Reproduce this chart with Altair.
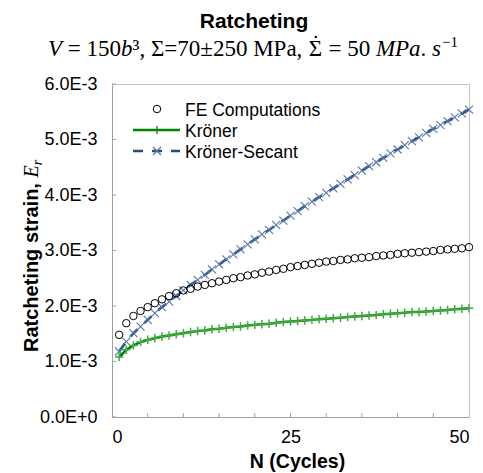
import altair as alt
import pandas as pd

SANS = "Liberation Sans"
SERIF = "Liberation Serif"

cycles = list(range(1, 51))

# Ratcheting strain values in units of 1E-3
fe = [1.48, 1.69, 1.82, 1.91, 1.98, 2.05, 2.12, 2.18, 2.23, 2.28,
      2.31, 2.35, 2.38, 2.41, 2.44, 2.47, 2.50, 2.52, 2.55, 2.57,
      2.60, 2.62, 2.65, 2.67, 2.70, 2.72, 2.74, 2.76, 2.78, 2.80,
      2.81, 2.83, 2.84, 2.86, 2.87, 2.88, 2.90, 2.91, 2.92, 2.94,
      2.95, 2.96, 2.97, 2.98, 2.99, 3.01, 3.02, 3.03, 3.04, 3.06]

kroner = [1.08, 1.21, 1.29, 1.35, 1.39, 1.42, 1.45, 1.47, 1.49, 1.51,
          1.53, 1.55, 1.56, 1.58, 1.59, 1.61, 1.62, 1.63, 1.65, 1.66,
          1.67, 1.68, 1.70, 1.71, 1.72, 1.73, 1.74, 1.75, 1.76, 1.77,
          1.78, 1.79, 1.80, 1.81, 1.82, 1.83, 1.84, 1.85, 1.86, 1.87,
          1.88, 1.89, 1.89, 1.90, 1.91, 1.92, 1.93, 1.94, 1.95, 1.96]

secant = [1.18, 1.36, 1.51, 1.63, 1.75, 1.87, 1.98, 2.08, 2.18, 2.28,
          2.38, 2.47, 2.56, 2.66, 2.75, 2.84, 2.93, 3.02, 3.11, 3.20,
          3.29, 3.37, 3.46, 3.54, 3.63, 3.71, 3.80, 3.88, 3.96, 4.04,
          4.12, 4.20, 4.28, 4.36, 4.44, 4.52, 4.59, 4.67, 4.75, 4.82,
          4.90, 4.97, 5.04, 5.12, 5.19, 5.26, 5.33, 5.40, 5.47, 5.54]

x_label_ticks = [0, 25, 50]
x_minor_ticks = [5, 10, 15, 20, 25, 30, 35, 40, 45]
y_ticks = [0, 1, 2, 3, 4, 5, 6]  # units of 1E-3

legend_labels = ["FE Computations", "Kröner", "Kröner-Secant"]
title_text = "Ratcheting"

W, H = 357, 333
BLUE = "#234d80"
BLUE_LIGHT = "#5577a8"
GREEN = "#008400"
GREEN_LIGHT = "#45a845"
AXIS_GRAY = "#a0a0a0"

df = pd.DataFrame({
    "N": cycles,
    "FE": [v * 1e-3 for v in fe],
    "Kroner": [v * 1e-3 for v in kroner],
    "Secant": [v * 1e-3 for v in secant],
})
ytick_df = pd.DataFrame({"t": [v * 1e-3 for v in y_ticks]})
xtick_df = pd.DataFrame({"t": x_minor_ticks})
leg_df = pd.DataFrame({"label": legend_labels, "row": [0, 1, 2]})

xs = alt.Scale(domain=[0, 50], nice=False, zero=False)
ys = alt.Scale(domain=[0, 0.006], nice=False)

x_axis = alt.Axis(values=x_label_ticks, title="N (Cycles)", ticks=False, grid=False,
                  labelFontSize=18, labelFont=SANS, labelColor="black", labelPadding=11,
                  titleFont=SANS, titleFontSize=19.5, titleFontWeight="bold", titleColor="black",
                  titleX=185, titleY=44, titleBaseline="middle",
                  domainColor=AXIS_GRAY)
y_axis = alt.Axis(values=[v * 1e-3 for v in y_ticks], title=None,
                  ticks=False, grid=False,
                  labelExpr="datum.value == 0 ? '0.0E+0' : format(datum.value*1000, '.1f') + 'E-3'",
                  labelFontSize=18, labelFont=SANS, labelColor="black", labelPadding=15,
                  domainColor=AXIS_GRAY)


def X(field):
    return alt.X(field, scale=xs, axis=x_axis)


def Y(field):
    return alt.Y(field, scale=ys, axis=y_axis)


base = alt.Chart(df)

sec_line = base.mark_line(color=BLUE, strokeWidth=2.6, strokeDash=[10, 9]).encode(
    x=X("N:Q"), y=Y("Secant:Q"))
sec_pts = base.mark_point(shape="M-1,-1L1,1M-1,1L1,-1", size=64, stroke=BLUE_LIGHT,
                          strokeWidth=1.1, filled=False, opacity=1).encode(
    x=X("N:Q"), y=Y("Secant:Q"))
kr_line = base.mark_line(color=GREEN, strokeWidth=2.5).encode(
    x=X("N:Q"), y=Y("Kroner:Q"))
kr_pts = base.mark_point(shape="M0,-1L0,1M-1,0L1,0", size=72, stroke=GREEN_LIGHT,
                         strokeWidth=1.5, filled=False, opacity=1).encode(
    x=X("N:Q"), y=Y("Kroner:Q"))
fe_pts = base.mark_point(shape="circle", size=56, stroke="black", strokeWidth=1,
                         filled=False, opacity=1).encode(
    x=X("N:Q"), y=Y("FE:Q"))

ytk = alt.Chart(ytick_df).mark_rule(color=AXIS_GRAY, strokeWidth=1).encode(
    y=Y("t:Q"), x=alt.value(0), x2=alt.value(4))
xtk = alt.Chart(xtick_df).mark_rule(color=AXIS_GRAY, strokeWidth=1).encode(
    x=X("t:Q"), y=alt.value(H), y2=alt.value(H - 4))

# legend (manual, inside the plot's top-left corner)
lg = alt.Chart(leg_df)
lg_c = lg.transform_filter("datum.row == 0").mark_point(
    shape="circle", size=56, stroke="black", strokeWidth=1, filled=False, opacity=1
).encode(x=alt.value(45), y=alt.value(25))
lg_k_line = lg.transform_filter("datum.row == 1").mark_rule(color=GREEN, strokeWidth=2.5).encode(
    x=alt.value(21), x2=alt.value(68), y=alt.value(46))
lg_k_pt = lg.transform_filter("datum.row == 1").mark_point(
    shape="M0,-1L0,1M-1,0L1,0", size=72, stroke=GREEN, strokeWidth=1.2, filled=False, opacity=1
).encode(x=alt.value(45), y=alt.value(46))
lg_s_line = lg.transform_filter("datum.row == 2").mark_rule(
    color=BLUE, strokeWidth=2.6, strokeDash=[10, 9]).encode(
    x=alt.value(21), x2=alt.value(68), y=alt.value(67))
lg_s_pt = lg.transform_filter("datum.row == 2").mark_point(
    shape="M-1,-1L1,1M-1,1L1,-1", size=64, stroke=BLUE_LIGHT, strokeWidth=1.2, filled=False, opacity=1
).encode(x=alt.value(45), y=alt.value(67))


def lg_text(row, ypix):
    return lg.transform_filter(f"datum.row == {row}").mark_text(
        align="left", baseline="middle", font=SANS, fontSize=17.5, color="black"
    ).encode(x=alt.value(73), y=alt.value(ypix), text="label:N")


# ---- rich-text pieces (title, subtitle and y-axis title) ----
one = alt.Chart(leg_df).transform_filter("datum.row == 0")


def piece(text, x, y, font, size, style="normal", weight="normal", angle=0, dy=0, align="left"):
    return one.mark_text(text=text, align=align, baseline="alphabetic", font=font,
                         fontSize=size, fontStyle=style, fontWeight=weight,
                         angle=angle, dy=dy, color="black").encode(
        x=alt.value(x), y=alt.value(y))


title_layer = piece(title_text, 142, -56, SANS, 21, weight="bold", align="center")

# Times-metric advance widths (em)
W_REG = {" ": .25, "=": .564, ",": .25, ".": .25, "M": .889, "P": .556, "a": .444,
         "±": .564, "Σ": .6, "³": .3, "−": .564}
for d in "0123456789":
    W_REG[d] = .5
W_IT = {"V": .611, "b": .5, "M": .833, "P": .611, "a": .5, "s": .389}

SUB_SIZE = 23
sub_pieces = [
    ("V", "italic"), (" = 150", "normal"), ("b", "italic"),
    ("³, Σ=70±250 MPa, ", "normal"), ("Σ", "normal"), (" = 50 ", "normal"),
    ("MPa", "italic"), (". ", "normal"), ("s", "italic"),
]
sub_layers = []
cx = -64.0
base_y = -28
for txt, st in sub_pieces:
    table = W_IT if st == "italic" else W_REG
    lead = len(txt) - len(txt.lstrip(" "))
    adv = sum(table.get(ch, .5) for ch in txt) * SUB_SIZE
    sub_layers.append(piece(txt.strip(" "), cx + lead * .25 * SUB_SIZE, base_y, SERIF,
                            SUB_SIZE, style=st))
    if txt == "Σ":
        # the time-derivative dot over Sigma
        sub_layers.append(one.mark_point(shape="circle", size=6, filled=True, color="black",
                                         opacity=1).encode(
            x=alt.value(cx + adv / 2), y=alt.value(base_y - 19)))
    cx += adv
sub_layers.append(piece("−1", cx + 1, base_y, SERIF, 15, dy=-9))

# y-axis title: "Ratcheting strain, E_r" rotated
YT_SIZE = 20
yt_x = -74
yt_start = 268
yt_len = 8.446 * YT_SIZE + .278 * YT_SIZE
ytitle = [
    piece("Ratcheting strain,", yt_x, yt_start, SANS, YT_SIZE, weight="bold", angle=270),
    piece("E", yt_x, yt_start - yt_len, SERIF, YT_SIZE, style="italic", angle=270),
    piece("r", yt_x, yt_start - yt_len - .611 * YT_SIZE, SERIF, 14, style="italic", angle=270, dy=4),
]

chart = alt.layer(
    sec_line, sec_pts, kr_line, kr_pts, fe_pts, ytk, xtk,
    lg_c, lg_k_line, lg_k_pt, lg_s_line, lg_s_pt,
    lg_text(0, 27), lg_text(1, 48), lg_text(2, 69),
    title_layer, *sub_layers, *ytitle,
).properties(
    width=W, height=H,
    autosize=alt.AutoSizeParams(type="none"),
    padding={"left": 104, "top": 76, "right": 6, "bottom": 56},
).configure_view(
    stroke="#c4c4c4", strokeWidth=1
)

chart.save("out.html", embed_options={"renderer": "svg", "actions": False})
